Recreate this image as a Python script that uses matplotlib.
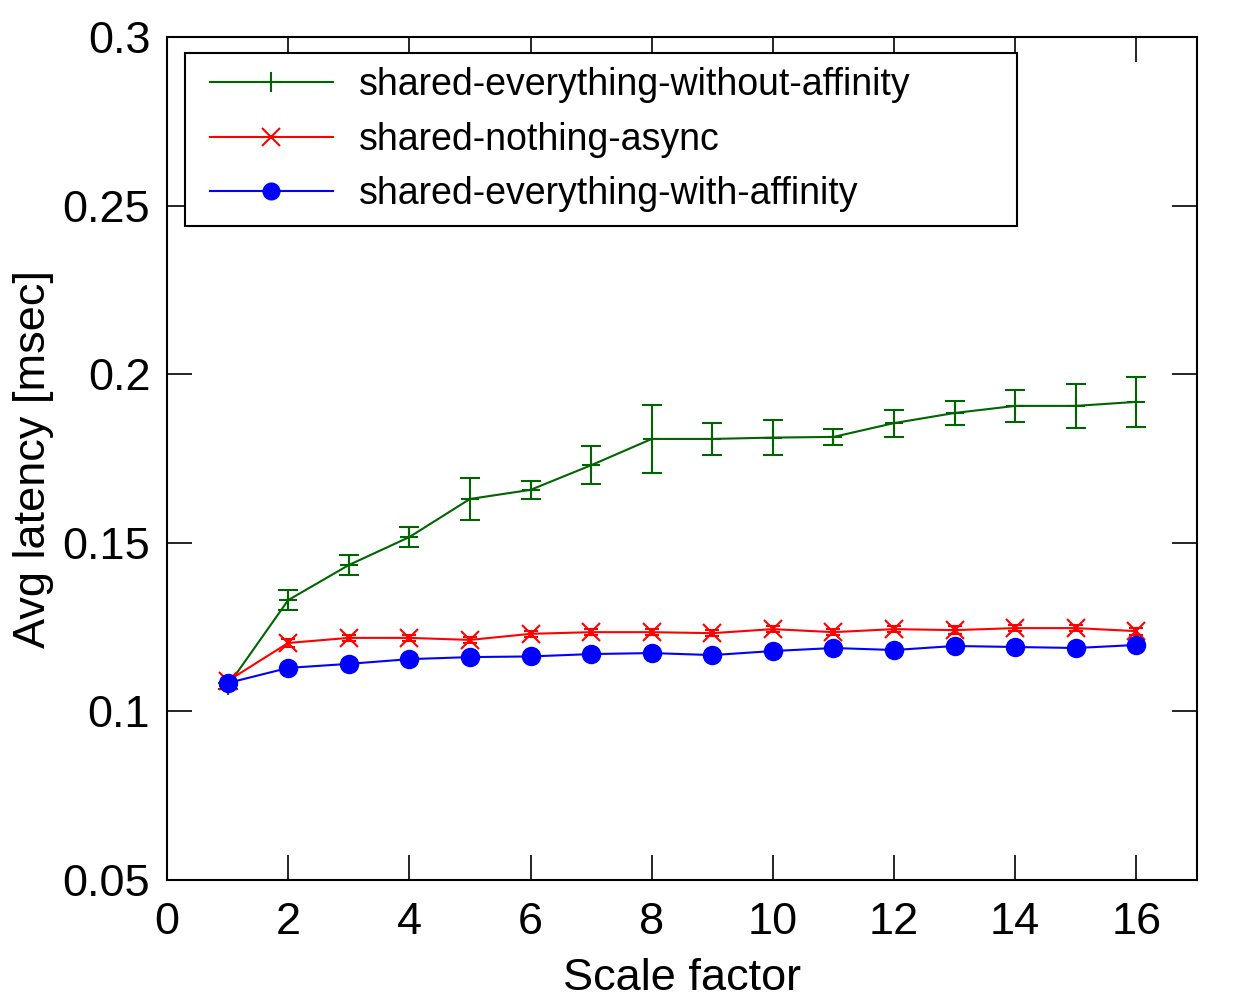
import numpy as np
import matplotlib
matplotlib.use("Agg")
import matplotlib.pyplot as plt
from matplotlib.lines import Line2D
from matplotlib.legend_handler import HandlerLine2D

plt.rcParams['font.family'] = ['Liberation Sans', 'DejaVu Sans']

# Scale factors
scale = [1, 2, 3, 4, 5, 6, 7, 8, 9, 10, 11, 12, 13, 14, 15, 16]

# shared-everything-without-affinity
se_noaff = [0.1075, 0.1330, 0.1434, 0.1517, 0.1630, 0.1657, 0.1730, 0.1808,
            0.1808, 0.1812, 0.1814, 0.1855, 0.1885, 0.1906, 0.1906, 0.1918]
se_noaff_err = [0.0010, 0.0030, 0.0030, 0.0030, 0.0062, 0.0027, 0.0057, 0.0102,
                0.0047, 0.0052, 0.0024, 0.0040, 0.0037, 0.0047, 0.0065, 0.0075]

# shared-nothing-async
sn_async = [0.1090, 0.1203, 0.1218, 0.1218, 0.1212, 0.1230, 0.1235, 0.1235,
            0.1232, 0.1244, 0.1235, 0.1244, 0.1241, 0.1247, 0.1247, 0.1238]
sn_async_err = [0.0010, 0.0012, 0.0010, 0.0010, 0.0010, 0.0008, 0.0008, 0.0008,
                0.0008, 0.0010, 0.0008, 0.0008, 0.0012, 0.0010, 0.0010, 0.0010]

# shared-everything-with-affinity
se_aff = [0.1084, 0.1129, 0.1141, 0.1155, 0.1161, 0.1163, 0.1170, 0.1173,
          0.1167, 0.1179, 0.1188, 0.1182, 0.1194, 0.1191, 0.1188, 0.1197]
se_aff_err = [0.0008, 0.0006, 0.0006, 0.0006, 0.0006, 0.0006, 0.0006, 0.0006,
              0.0006, 0.0006, 0.0006, 0.0006, 0.0006, 0.0006, 0.0006, 0.0006]

labels = ['shared-everything-without-affinity', 'shared-nothing-async',
          'shared-everything-with-affinity']

fig = plt.figure(figsize=(12.5, 10), dpi=100)
ax = fig.add_axes([0.1336, 0.12, 0.824, 0.843])

ax.errorbar(scale, se_noaff, yerr=se_noaff_err, color='#006400', marker='+',
            markersize=13, mew=1.5, lw=1.5, capsize=7, elinewidth=1.5,
            capthick=1.5)
ax.errorbar(scale, sn_async, yerr=sn_async_err, color='red', marker='x',
            markersize=13, mew=1.5, lw=1.5, capsize=5, elinewidth=1.5,
            capthick=1.5)
ax.errorbar(scale, se_aff, yerr=se_aff_err, color='blue', marker='o',
            markersize=13, mew=1.0, lw=1.5, capsize=4, elinewidth=1.2,
            capthick=1.2)

ax.set_xlim(0, 17)
ax.set_ylim(0.05, 0.3)
ax.set_xticks(range(0, 17, 2))
ax.set_yticks([0.05, 0.1, 0.15, 0.2, 0.25, 0.3])
ax.set_yticklabels(['0.05', '0.1', '0.15', '0.2', '0.25', '0.3'])
ax.tick_params(direction='in', length=18, width=1.2, labelsize=32.5,
               top=True, right=True)
ax.tick_params(axis='x', pad=16)
ax.tick_params(axis='y', pad=12)
for s in ax.spines.values():
    s.set_linewidth(1.5)

ax.set_xlabel('Scale factor', fontsize=32.5, labelpad=11)
ax.set_ylabel('Avg latency [msec]', fontsize=32.5, labelpad=6)

handles = [
    Line2D([], [], color='#006400', marker='+', markersize=15, mew=1.5, lw=1.5),
    Line2D([], [], color='red', marker='x', markersize=13, mew=1.5, lw=1.5),
    Line2D([], [], color='blue', marker='o', markersize=12, lw=1.5),
]
leg = ax.legend(handles, labels, loc='upper left',
                bbox_to_anchor=(0.0175, 0.0, 0.808, 0.981), mode='expand',
                fontsize=27, frameon=True, fancybox=False, edgecolor='black',
                framealpha=1, handlelength=3.57, borderpad=0.37,
                labelspacing=0.5, handletextpad=0.69, borderaxespad=0,
                handler_map={Line2D: HandlerLine2D(xpad=0.3)})
leg.get_frame().set_linewidth(1.5)

fig.savefig('out.png', dpi=100)
